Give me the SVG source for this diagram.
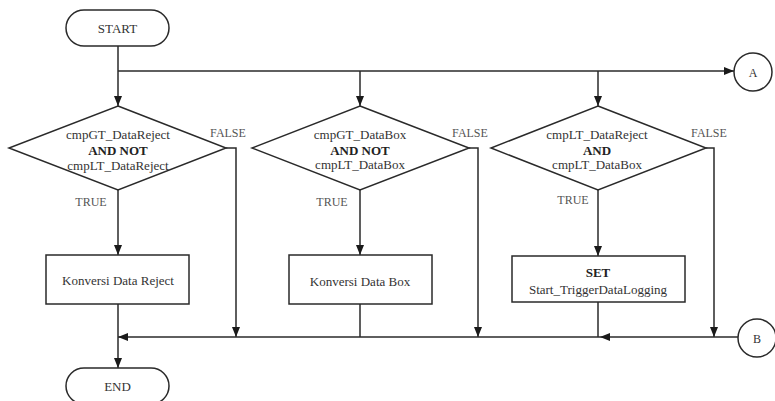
<svg xmlns="http://www.w3.org/2000/svg" width="775" height="401" viewBox="0 0 775 401">
<style>
.s{fill:#fff;stroke:#2a2a2a;stroke-width:1.5}
.c{fill:none;stroke:#2a2a2a;stroke-width:1.5}
text{font-family:"Liberation Serif","Times New Roman",serif;font-size:13px;fill:#333;text-anchor:middle}
.b{font-weight:bold;fill:#222}
.l{font-size:12px;fill:#555}
</style>
<defs>
<marker id="ar" markerUnits="userSpaceOnUse" markerWidth="10" markerHeight="10" viewBox="0 0 10 10" refX="10" refY="5" orient="auto">
<path d="M0,1 L10,5 L0,9 Z" fill="#1a1a1a"/>
</marker>
</defs>
<rect width="775" height="401" fill="#fff"/>
<g id="connectors">
<path class="c" d="M118,46 V106" marker-end="url(#ar)"/>
<path class="c" d="M118,71 H734" marker-end="url(#ar)"/>
<path class="c" d="M360,71 V106" marker-end="url(#ar)"/>
<path class="c" d="M598,71 V106" marker-end="url(#ar)"/>
<path class="c" d="M118,190 V255" marker-end="url(#ar)"/>
<path class="c" d="M360,190 V255" marker-end="url(#ar)"/>
<path class="c" d="M598,190 V256" marker-end="url(#ar)"/>
<path class="c" d="M226,148 H236 V337" marker-end="url(#ar)"/>
<path class="c" d="M469,148 H478 V337" marker-end="url(#ar)"/>
<path class="c" d="M706,148 H714 V337" marker-end="url(#ar)"/>
<path class="c" d="M360,304 V337"/>
<path class="c" d="M598,302 V337"/>
<path class="c" d="M738,337 H600" marker-end="url(#ar)"/>
<path class="c" d="M600,337 H118" marker-end="url(#ar)"/>
<path class="c" d="M118,304 V368" marker-end="url(#ar)"/>
</g>
<g id="start">
<rect class="s" x="66" y="10" width="103" height="36" rx="18"/>
<text x="117.5" y="32.5">START</text>
</g>
<g id="connA">
<circle class="s" cx="753" cy="72" r="19"/>
<text x="753" y="76.5" style="font-size:12px">A</text>
</g>
<g id="dec1">
<polygon class="s" points="118,106 226,148 118,190 9,148"/>
<text x="118" y="139">cmpGT_DataReject</text>
<text class="b" x="118" y="155">AND NOT</text>
<text x="118" y="170">cmpLT_DataReject</text>
<text class="l" x="228" y="137">FALSE</text>
<text class="l" x="91" y="206">TRUE</text>
</g>
<g id="dec2">
<polygon class="s" points="360,106 469,148 360,190 252,148"/>
<text x="360" y="139">cmpGT_DataBox</text>
<text class="b" x="360" y="155">AND NOT</text>
<text x="360" y="169">cmpLT_DataBox</text>
<text class="l" x="470" y="137">FALSE</text>
<text class="l" x="332" y="206">TRUE</text>
</g>
<g id="dec3">
<polygon class="s" points="598,106 706,148 598,190 491,148"/>
<text x="597" y="139">cmpLT_DataReject</text>
<text class="b" x="597" y="155">AND</text>
<text x="597" y="169">cmpLT_DataBox</text>
<text class="l" x="709" y="137">FALSE</text>
<text class="l" x="573" y="204">TRUE</text>
</g>
<g id="box1">
<rect class="s" x="46" y="255" width="143" height="49"/>
<text x="118" y="285">Konversi Data Reject</text>
</g>
<g id="box2">
<rect class="s" x="289" y="255" width="143" height="49"/>
<text x="360" y="286">Konversi Data Box</text>
</g>
<g id="box3">
<rect class="s" x="512" y="256" width="173" height="46"/>
<text class="b" x="598" y="277">SET</text>
<text x="598" y="294">Start_TriggerDataLogging</text>
</g>
<g id="connB">
<circle class="s" cx="757" cy="338" r="19"/>
<text x="757" y="342.5" style="font-size:12px">B</text>
</g>
<g id="end">
<rect class="s" x="66" y="368" width="103" height="36" rx="18"/>
<text x="117.5" y="391">END</text>
</g>
</svg>
